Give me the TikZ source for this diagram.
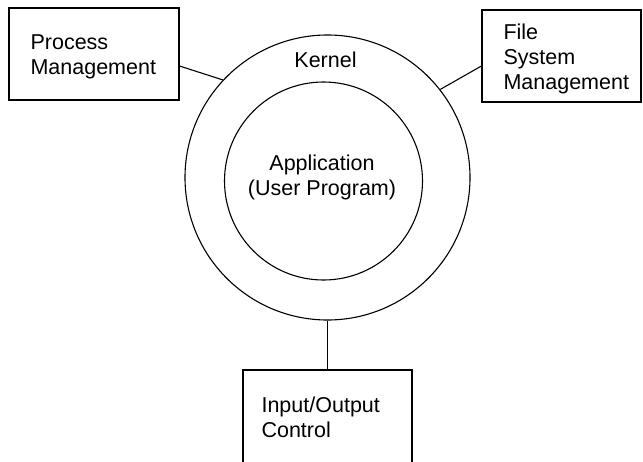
\documentclass[tikz,border=0pt]{standalone}
\usepackage{fontspec}
\setmainfont{Liberation Sans}
\begin{document}
\begin{tikzpicture}[x=1pt,y=-1pt,line width=1.1pt,
  box/.style={draw,rectangle,inner sep=0pt},
  lbl/.style={inner sep=0pt,align=left,font=\fontsize{21.5}{25}\selectfont},
  clbl/.style={inner sep=0pt,align=center,font=\fontsize{21.5}{25}\selectfont},
  ring/.style={draw,circle,inner sep=0pt}]
\useasboundingbox (0,0) rectangle (643,461);
\clip (0,0) rectangle (643,461);
% boxes
\node[box,minimum width=170pt,minimum height=92pt] (pm) at (94,54) {};
\node[box,minimum width=159pt,minimum height=92pt] (fs) at (561.5,56) {};
\node[box,minimum width=169pt,minimum height=130pt] (io) at (327.5,435) {};
% rings
\node[ring,minimum size=285pt] (kernel) at (327.5,177.5) {};
\node[ring,minimum size=198pt] (app) at (323.5,181) {};
% texts (anchor at baseline of last line)
\node[lbl,anchor=base west] (pmt) at (30,74) {Process\\Management};
\node[lbl,anchor=base west] (fst) at (503,89) {File\\System\\Management};
\node[lbl,anchor=base west] (iot) at (261,437) {Input/Output\\Control};
\node[clbl,anchor=base] (kt) at (325.5,67) {Kernel};
\node[clbl,anchor=base] (at) at (322,195) {Application\\(User Program)};
% connectors
\draw ([yshift=-12pt]pm.east) -- (kernel.137);
\draw ([yshift=-10pt]fs.west) -- (kernel.38);
\draw (kernel.south) -- (io.north);
\end{tikzpicture}
\end{document}
